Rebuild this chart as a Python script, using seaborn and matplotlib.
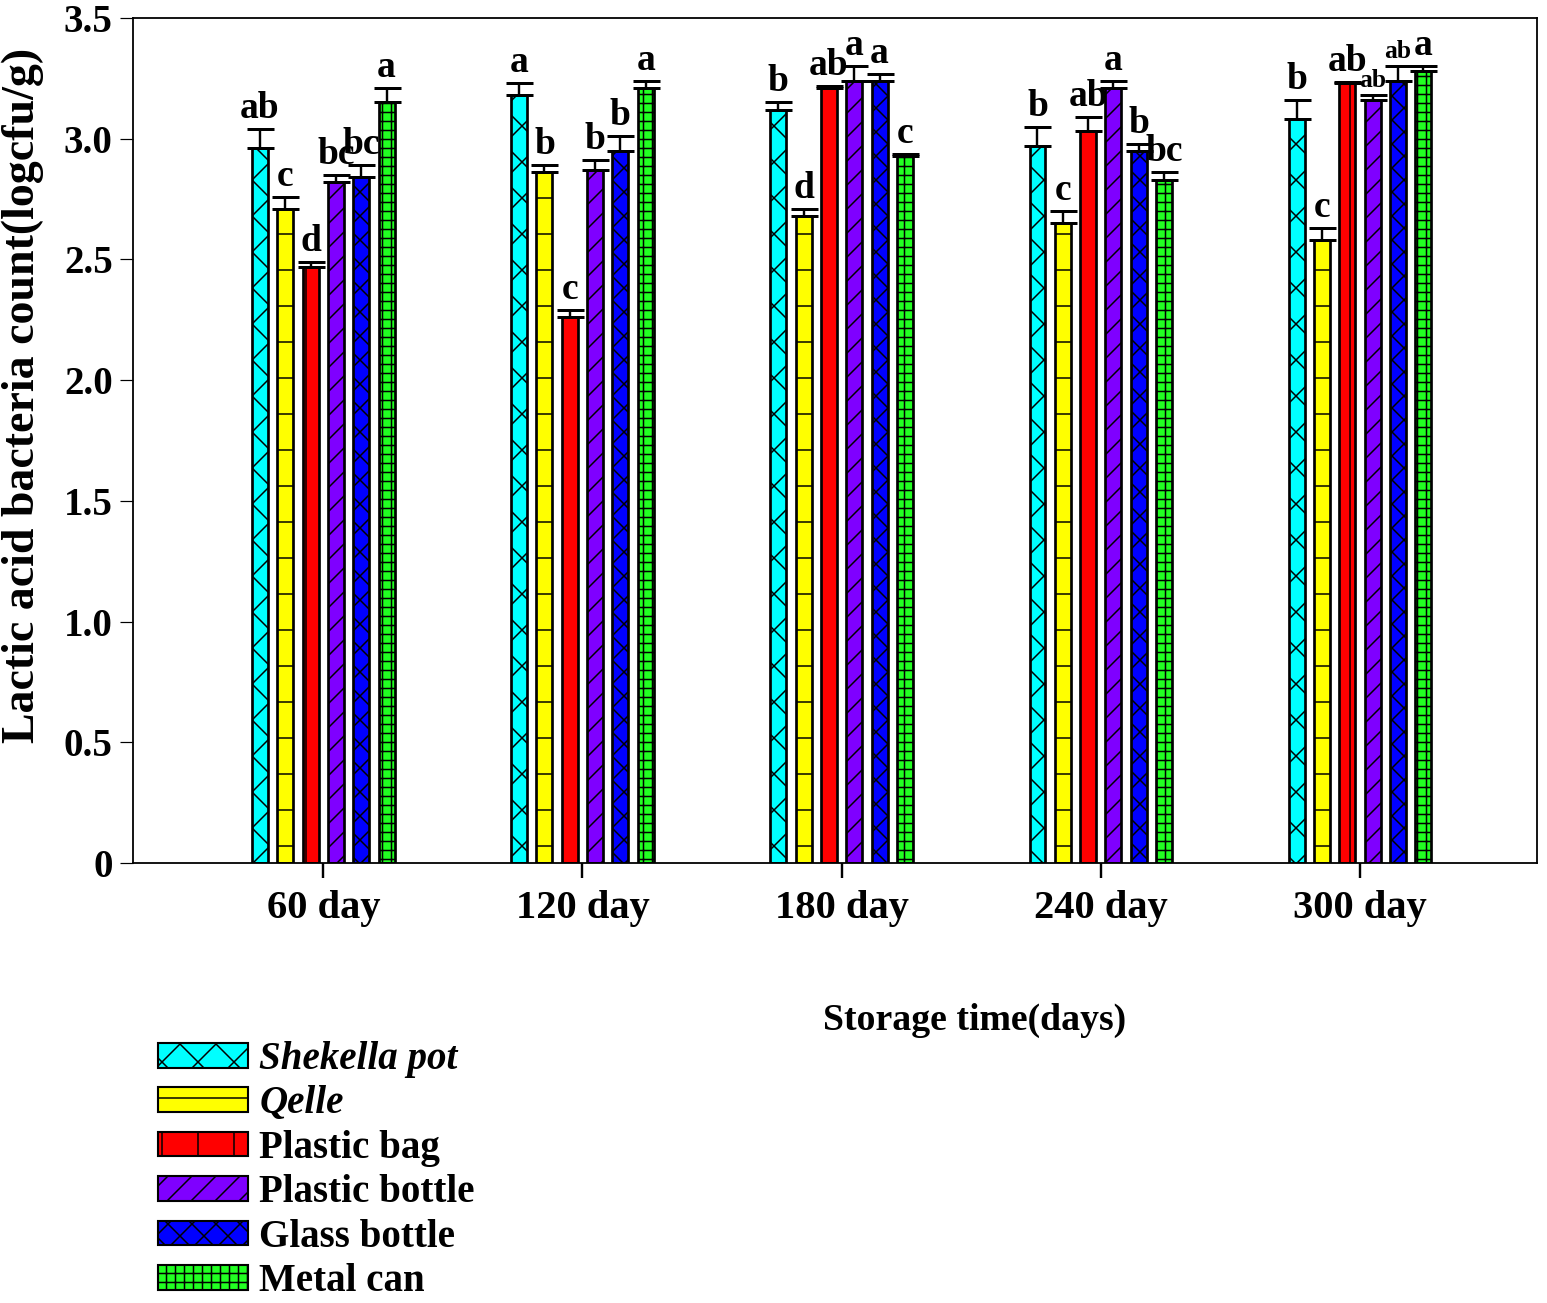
import matplotlib
matplotlib.use("Agg")
import matplotlib.pyplot as plt
import numpy as np
import pandas as pd
import seaborn as sns
from matplotlib.patches import Patch

# storage groups and packaging materials
days = ["60 day", "120 day", "180 day", "240 day", "300 day"]
materials = ["Shekella pot", "Qelle", "Plastic bag", "Plastic bottle", "Glass bottle", "Metal can"]

# mean LAB count (logcfu/g) per material, one value per storage time
shekella_pot = [2.96, 3.18, 3.12, 2.97, 3.08]
qelle = [2.71, 2.86, 2.68, 2.65, 2.58]
plastic_bag = [2.47, 2.26, 3.21, 3.03, 3.23]
plastic_bottle = [2.82, 2.87, 3.24, 3.21, 3.16]
glass_bottle = [2.84, 2.95, 3.24, 2.95, 3.24]
metal_can = [3.15, 3.21, 2.93, 2.83, 3.28]

# upper error (SE)
err_shekella = [0.08, 0.05, 0.03, 0.08, 0.08]
err_qelle = [0.05, 0.03, 0.03, 0.05, 0.05]
err_bag = [0.02, 0.03, 0.01, 0.06, 0.005]
err_bottle = [0.03, 0.04, 0.06, 0.03, 0.02]
err_glass = [0.05, 0.06, 0.03, 0.03, 0.06]
err_can = [0.06, 0.03, 0.005, 0.03, 0.02]

# significance letters
let_shekella = ["ab", "a", "b", "b", "b"]
let_qelle = ["c", "b", "d", "c", "c"]
let_bag = ["d", "c", "ab", "ab", "ab"]
let_bottle = ["bc", "b", "a", "a", "ab"]
let_glass = ["bc", "b", "a", "b", "ab"]
let_can = ["a", "a", "c", "bc", "a"]

means = [shekella_pot, qelle, plastic_bag, plastic_bottle, glass_bottle, metal_can]
errors = [err_shekella, err_qelle, err_bag, err_bottle, err_glass, err_can]
letters = [let_shekella, let_qelle, let_bag, let_bottle, let_glass, let_can]

colors = ["#00FFFF", "#FFFF00", "#FF0000", "#7F00FF", "#0000FF", "#22FF22"]
hatches = ["xx", "-", "|", "///", "xxx", "++++"]

rows = []
for m, vals in zip(materials, means):
    for d, v in zip(days, vals):
        rows.append({"day": d, "material": m, "lab": v})
df = pd.DataFrame(rows)

sns.set_theme(style="ticks")
plt.rcParams["font.family"] = ["Liberation Serif", "DejaVu Serif"]
plt.rcParams["font.weight"] = "bold"
plt.rcParams["text.color"] = "black"
plt.rcParams["xtick.color"] = "black"
plt.rcParams["ytick.color"] = "black"
plt.rcParams["hatch.linewidth"] = 0.5
plt.rcParams["hatch.color"] = "black"

DPI = 216
fig = plt.figure(figsize=(1547 / DPI, 1303 / DPI), dpi=DPI)
ax = fig.add_axes([0.086, 0.3377, 0.9075, 0.6485])

sns.barplot(data=df, x="day", y="lab", hue="material", hue_order=materials,
            order=days, palette=colors, width=0.586, gap=0.37,
            edgecolor="black", linewidth=0.9, errorbar=None, legend=False,
            saturation=1, ax=ax)

for i, (cont, hatch, errs, labs) in enumerate(zip(ax.containers, hatches, errors, letters)):
    xs, hs = [], []
    for bar in cont:
        bar.set_hatch(hatch)
        xs.append(bar.get_x() + bar.get_width() / 2)
        hs.append(bar.get_height())
    ax.errorbar(xs, hs, yerr=[np.zeros(len(errs)), errs], fmt="none",
                ecolor="black", elinewidth=0.8, capsize=4.5, capthick=1.0)
    for j, (x, h, e, t) in enumerate(zip(xs, hs, errs, labs)):
        # the two crowded labels at 300 day are printed smaller
        small = j == 4 and i in (3, 4)
        ax.annotate(t, (x, h + e), xytext=(0, 1), textcoords="offset points",
                    ha="center", va="bottom", fontsize=8.5 if small else 12.5,
                    fontweight="bold")

ax.set_ylim(0, 3.5)
ax.set_xlim(-0.734, 4.683)
ax.set_yticks(np.arange(0, 3.51, 0.5))
ax.set_yticklabels(["0"] + [f"{v:.1f}" for v in np.arange(0.5, 3.51, 0.5)])
ax.tick_params(axis="y", direction="out", length=4.3, width=0.4, pad=2.5,
               labelsize=13)
ax.tick_params(axis="x", direction="out", length=5, width=0.8, pad=4,
               labelsize=13.5)
for lab in ax.get_xticklabels() + ax.get_yticklabels():
    lab.set_fontweight("bold")
for sp in ax.spines.values():
    sp.set_visible(True)
    sp.set_linewidth(0.6)
    sp.set_color("black")
ax.set_xlabel("")
ax.set_ylabel("")

fig.text(975 / 1547, 1 - 1020 / 1303, "Storage time(days)", ha="center",
         va="center", fontsize=12.6, fontweight="bold")
fig.text(23 / 1547, 1 - 395 / 1303, "Lactic acid bacteria count(logcfu/g)",
         rotation=90, ha="center", va="center", fontsize=15.3,
         fontweight="bold")

handles = [Patch(facecolor=c, edgecolor="black", hatch=h, linewidth=0.7)
           for c, h in zip(colors, hatches)]
leg = fig.legend(handles, materials, loc="upper left",
                 bbox_to_anchor=(158 / 1547, 1 - 1041 / 1303),
                 frameon=False, borderpad=0, borderaxespad=0,
                 fontsize=13, handlelength=2.3, handleheight=0.6,
                 handletextpad=0.3, labelspacing=0.19)
for i, t in enumerate(leg.get_texts()):
    t.set_fontweight("bold")
    if i < 2:
        t.set_fontstyle("italic")

fig.savefig("out.png", dpi=DPI)
